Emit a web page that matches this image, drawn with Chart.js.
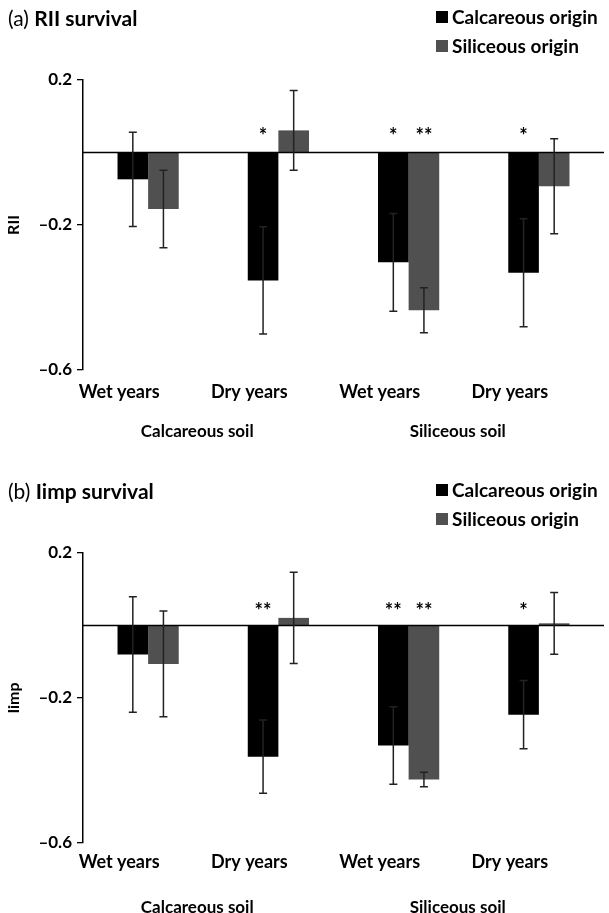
<!DOCTYPE html>
<html lang="en">
<head>
<meta charset="UTF-8">
<title>RII and Iimp survival</title>
<script src="https://cdn.jsdelivr.net/npm/chart.js"></script>
<style>
  html, body { margin: 0; background: #fff; overflow: hidden; }
  body { font-family: Lato, sans-serif; color: #000; }
  .panel { position: relative; width: 609px; }
  .panel canvas { display: block; }
  .title { position: absolute; left: 8px; font-size: 21px; }
  .title b { font-weight: bold; }
  .legend { position: absolute; left: 436px; font-size: 19px; font-weight: bold; }
  .legend div { display: flex; align-items: center; height: 29px; }
  .legend .box { width: 12px; height: 12px; margin-right: 4px; }
</style>
</head>
<body>

<div class="panel" style="height:473px">
  <div class="title" style="top:5px">(a) <b>RII survival</b></div>
  <div class="legend" id="legendA" style="top:2px"></div>
  <canvas id="chartA" width="609" height="473"></canvas>
</div>
<div class="panel" style="height:464px">
  <div class="title" style="top:5px">(b) <b>Iimp survival</b></div>
  <div class="legend" id="legendB" style="top:2px"></div>
  <canvas id="chartB" width="609" height="464"></canvas>
</div>

<script>
// categories
const categories = ['Wet years', 'Dry years', 'Wet years', 'Dry years'];
const soils = ['Calcareous soil', 'Siliceous soil'];
const seriesNames = ['Calcareous origin', 'Siliceous origin'];
const yTicks = [0.2, -0.2, -0.6];

// (a) RII survival
const calcA = [-0.074, -0.353, -0.303, -0.332];
const calcErrA = [0.13, 0.148, 0.135, 0.149];
const silA = [-0.156, 0.061, -0.435, -0.093];
const silErrA = [0.107, 0.11, 0.062, 0.131];
const starsCalcA = ['', '*', '*', '*'];
const starsSilA = ['', '', '**', ''];

// (b) Iimp survival
const calcB = [-0.080, -0.362, -0.331, -0.246];
const calcErrB = [0.159, 0.101, 0.107, 0.094];
const silB = [-0.106, 0.021, -0.425, 0.006];
const silErrB = [0.146, 0.126, 0.02, 0.085];
const starsCalcB = ['', '**', '**', '*'];
const starsSilB = ['', '', '**', ''];

const colors = ['#000000', '#505050'];

// zero line, error bars and significance stars
const extras = {
  id: 'extras',
  afterDatasetsDraw(chart, args, opts) {
    const {ctx, chartArea} = chart;
    const y = chart.scales.y;
    const y0 = y.getPixelForValue(0);
    ctx.save();
    ctx.strokeStyle = '#000';
    ctx.lineWidth = 1.6;
    ctx.beginPath();
    ctx.moveTo(chartArea.left, y0);
    ctx.lineTo(chartArea.right, y0);
    ctx.stroke();

    ctx.strokeStyle = '#222';
    ctx.lineWidth = 1.5;
    ctx.fillStyle = '#000';
    ctx.font = 'bold 20px Lato';
    ctx.textAlign = 'center';
    ctx.textBaseline = 'middle';
    chart.data.datasets.forEach((ds, i) => {
      chart.getDatasetMeta(i).data.forEach((bar, j) => {
        const v = ds.data[j], e = ds.errors[j];
        const yt = y.getPixelForValue(v + e), yb = y.getPixelForValue(v - e);
        ctx.beginPath();
        ctx.moveTo(bar.x, yt); ctx.lineTo(bar.x, yb);
        ctx.moveTo(bar.x - 4, yt); ctx.lineTo(bar.x + 4, yt);
        ctx.moveTo(bar.x - 4, yb); ctx.lineTo(bar.x + 4, yb);
        ctx.stroke();
        if (ds.stars[j]) {
          ctx.fillText(ds.stars[j], bar.x, y.getPixelForValue(opts.starLevel) + 4);
        }
      });
    });
    ctx.restore();
  }
};

function fmt(v) {
  const r = Math.round(v * 10) / 10;
  return r < 0 ? '\u2013' + Math.abs(r).toFixed(1) : r.toFixed(1);
}

function makeChart(id, legendId, yTitle, calc, calcErr, starsCalc, sil, silErr, starsSil, lay) {
  const chart = new Chart(document.getElementById(id), {
    type: 'bar',
    data: {
      labels: categories,
      datasets: [
        { label: seriesNames[0], data: calc, errors: calcErr, stars: starsCalc, backgroundColor: colors[0] },
        { label: seriesNames[1], data: sil, errors: silErr, stars: starsSil, backgroundColor: colors[1] }
      ]
    },
    options: {
      responsive: false,
      animation: false,
      datasets: { bar: { categoryPercentage: 0.47, barPercentage: 1.0 } },
      layout: { padding: { top: 80, right: 5, left: 0, bottom: lay.bottom } },
      plugins: {
        legend: { display: false },
        tooltip: { enabled: false },
        extras: { starLevel: lay.starLevel }
      },
      scales: {
        x: {
          grid: { display: false, drawTicks: false },
          border: { display: false },
          ticks: { color: '#000', font: { family: 'Lato', size: 18, weight: 'bold' },
                   padding: lay.xPad, labelOffset: -29, maxRotation: 0, autoSkip: false }
        },
        x2: {
          type: 'category',
          labels: soils,
          position: 'bottom',
          offset: true,
          grid: { display: false, drawTicks: false },
          border: { display: false },
          ticks: { color: '#000', font: { family: 'Lato', size: 17, weight: 'bold' },
                   padding: lay.x2Pad, labelOffset: -16, maxRotation: 0 }
        },
        y: {
          min: -0.6,
          max: 0.2,
          afterFit: s => { s.width = 83; },
          afterBuildTicks: s => { s.ticks = yTicks.map(v => ({ value: v })); },
          title: { display: true, text: yTitle, color: '#000', font: { family: 'Lato', size: 16, weight: 'bold' }, padding: 4 },
          grid: { drawOnChartArea: false, drawTicks: true, tickLength: 6, color: '#000', lineWidth: 1.3 },
          border: { color: '#000', width: 1.5 },
          ticks: { color: '#000', font: { family: 'Lato', size: 17, weight: 'bold' }, padding: 5, callback: v => fmt(v) }
        }
      }
    },
    plugins: [extras]
  });

  const leg = document.getElementById(legendId);
  chart.data.datasets.forEach(ds => {
    const row = document.createElement('div');
    const box = document.createElement('span');
    box.className = 'box';
    box.style.background = ds.backgroundColor;
    row.appendChild(box);
    row.appendChild(document.createTextNode(ds.label));
    leg.appendChild(row);
  });
  return chart;
}

makeChart('chartA', 'legendA', 'RII', calcA, calcErrA, starsCalcA, silA, silErrA, starsSilA,
  { bottom: 23, xPad: 11, x2Pad: 8, starLevel: 0.055 });
makeChart('chartB', 'legendB', 'Iimp', calcB, calcErrB, starsCalcB, silB, silErrB, starsSilB,
  { bottom: 2, xPad: 8, x2Pad: 17, starLevel: 0.05 });
</script>
</body>
</html>
